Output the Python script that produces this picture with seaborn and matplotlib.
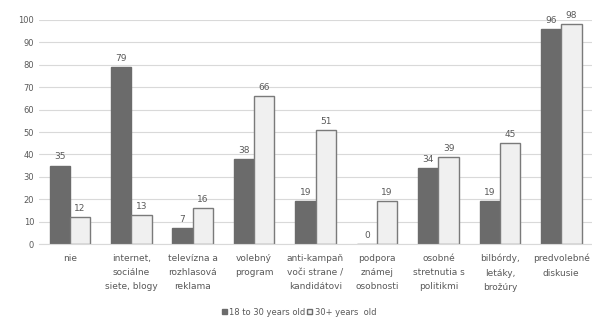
import seaborn as sns
import matplotlib.pyplot as plt
import pandas as pd

categories = ["nie", "internet,\nsociálne\nsiete, blogy", "televízna a\nrozhlasová\nreklama",
              "volebný\nprogram", "anti-kampaň\nvoči strane /\nkandidátovi", "podpora\nznámej\nosobnosti",
              "osobné\nstretnutia s\npolitikmi", "bilbórdy,\nletáky,\nbrožúry", "predvolebné\ndiskusie"]
young = [35, 79, 7, 38, 19, 0, 34, 19, 96]
older = [12, 13, 16, 66, 51, 19, 39, 45, 98]
groups = ["18 to 30 years old", "30+ years  old"]

df = pd.DataFrame({
    "cat": categories * 2,
    "value": young + older,
    "group": [groups[0]] * len(categories) + [groups[1]] * len(categories),
})

sns.set_style("white")
plt.rcParams["font.family"] = ["DejaVu Sans"]
text_col = "#595959"

fig = plt.figure(figsize=(5.92, 3.22), dpi=100)
ax = fig.add_axes([0.066, 0.242, 0.934, 0.696])
sns.barplot(data=df, x="cat", y="value", hue="group", ax=ax,
            palette=["#6b6b6b", "#f0f0f0"], width=0.66, gap=0.0,
            edgecolor="#6b6b6b", linewidth=1.0)
for bar in ax.containers[1]:
    bar.set_edgecolor("#7a7a7a")
for c in ax.containers:
    ax.bar_label(c, padding=3, fontsize=6.5, color=text_col)

ax.set_ylim(0, 100)
ax.set_yticks(range(0, 101, 10))
ax.yaxis.grid(True, color="#d9d9d9", linewidth=0.8)
ax.set_axisbelow(True)
ax.set_xlabel("")
ax.set_ylabel("")
ax.tick_params(axis="y", labelsize=6, colors=text_col, length=0)
ax.tick_params(axis="x", labelsize=6.5, colors=text_col, length=0, pad=7)
for lbl in ax.get_xticklabels():
    lbl.set_linespacing(1.75)
for s in ["top", "right", "left"]:
    ax.spines[s].set_visible(False)
ax.spines["bottom"].set_color("#d9d9d9")
ax.set_xlim(-0.5, 8.5)

ax.legend(loc="upper center", bbox_to_anchor=(0.47, -0.25), ncol=2, frameon=False,
          fontsize=6, labelcolor=text_col, handlelength=0.6, handleheight=0.6,
          handletextpad=0.3, columnspacing=0.2)

plt.savefig("out.png", dpi=100)
